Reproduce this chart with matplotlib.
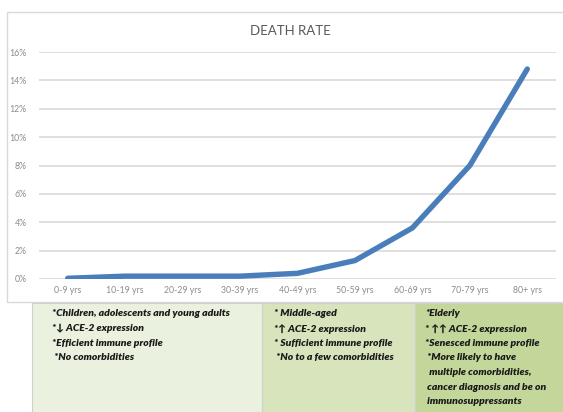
import matplotlib
matplotlib.use("Agg")
import matplotlib.pyplot as plt
from matplotlib.patches import Rectangle
from matplotlib.ticker import PercentFormatter

categories = ["0-9 yrs", "10-19 yrs", "20-29 yrs", "30-39 yrs", "40-49 yrs",
              "50-59 yrs", "60-69 yrs", "70-79 yrs", "80+ yrs"]
death_rate = [0.0005, 0.002, 0.002, 0.002, 0.004, 0.013, 0.036, 0.080, 0.148]
y_ticks = [0, 0.02, 0.04, 0.06, 0.08, 0.10, 0.12, 0.14, 0.16]
title = "DEATH RATE"

box1_lines = ["*Children, adolescents and young adults",
              "*\u2193 ACE-2 expression",
              "*Efficient immune profile",
              " *No comorbidities"]
box2_lines = ["* Middle-aged",
              "*\u2191 ACE-2 expression",
              "* Sufficient immune profile",
              " *No to a few comorbidities"]
box3_lines = ["*Elderly",
              "* \u2191\u2191 ACE-2 expression",
              "*Senesced immune profile",
              " *More likely to have",
              "  multiple comorbidities,",
              " cancer diagnosis and be on",
              " immunosuppressants"]

W, H = 563, 412
fig = plt.figure(figsize=(W / 100, H / 100), dpi=100)
fig.patch.set_facecolor("white")

def fx(px):
    return px / W

def fy(py):
    return 1 - py / H

# chart border
fig.patches.append(Rectangle((fx(7), fy(302)), fx(570) - fx(7), fy(12) - fy(302),
                             transform=fig.transFigure, facecolor="white",
                             edgecolor="#D9D9D9", linewidth=1.0, zorder=-5))

ax = fig.add_axes([fx(39), fy(279), fx(556) - fx(39), fy(52) - fy(279)])
ax.set_zorder(0)
ax.set_facecolor("none")
x = list(range(len(categories)))
ax.plot(x, death_rate, color="#4A7EBB", linewidth=3.9, solid_capstyle="round",
        solid_joinstyle="round", zorder=3)
ax.set_xlim(-0.5, len(categories) - 0.5)
ax.set_ylim(0, 0.16)
ax.set_yticks(y_ticks)
ax.yaxis.set_major_formatter(PercentFormatter(1.0, decimals=0))
ax.set_xticks(x)
ax.set_xticklabels(categories)
ax.grid(axis="y", color="#D9D9D9", linewidth=1.2)
ax.set_axisbelow(True)
for s in ax.spines.values():
    s.set_visible(False)
ax.tick_params(length=0, labelsize=6.3, labelcolor="#8C8C8C", pad=5)
ax.tick_params(axis="y", pad=9)
for lab in ax.get_xticklabels() + ax.get_yticklabels():
    lab.set_family(["Lato", "DejaVu Sans"])

fig.text(fx(290), fy(31), title, ha="center", va="center", fontsize=9.5,
         color="#595959", family=["Lato", "DejaVu Sans"])

# annotation boxes
boxes = [(32, 262, "#EBF1DF", box1_lines, 52),
         (262, 415, "#D8E4BC", box2_lines, 274),
         (415, 566, "#C4D79B", box3_lines, 425)]
for x0, x1, col, lines, tx in boxes:
    fig.patches.append(Rectangle((fx(x0), fy(415)), fx(x1) - fx(x0), fy(303) - fy(415),
                                 transform=fig.transFigure, facecolor=col,
                                 edgecolor="#D0D0D0", linewidth=0.8, zorder=5))
    for i, line in enumerate(lines):
        fig.text(fx(tx), fy(314 + i * 14.6), line, ha="left", va="center",
                 fontsize=7.5, fontweight="heavy", fontstyle="italic",
                 color="#1A1A1A", family=["Lato", "DejaVu Sans"], zorder=6)

fig.savefig("out.png", dpi=100)
